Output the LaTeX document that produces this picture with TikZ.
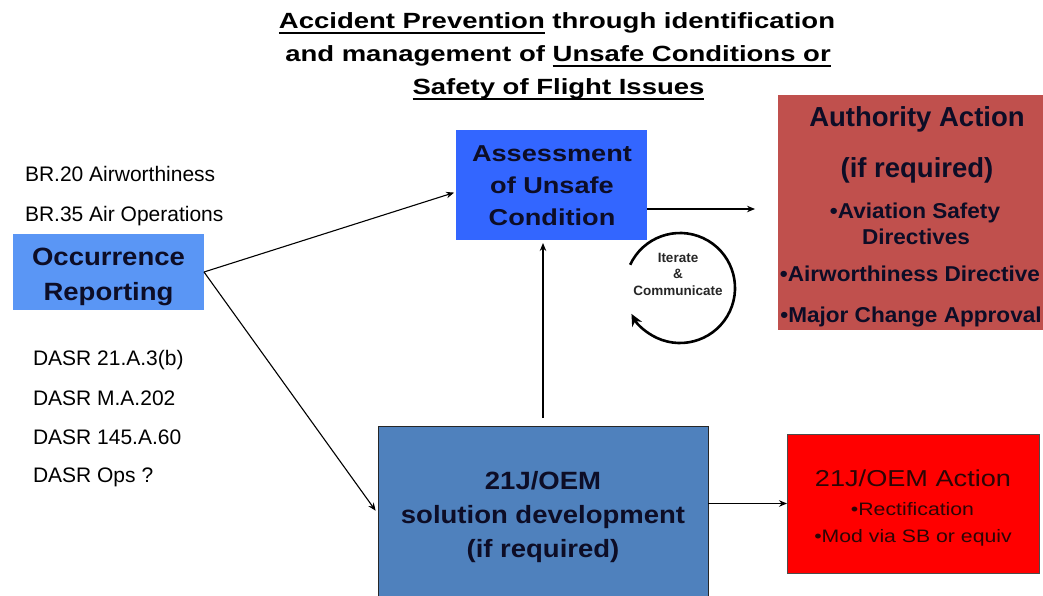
\documentclass[tikz,border=0pt]{standalone}
\usepackage{fontspec}
\setmainfont{Liberation Sans}
\newfontfamily\fTitle[FakeStretch=1.25]{Liberation Sans}
\newfontfamily\fWide[FakeStretch=1.1]{Liberation Sans}
\newfontfamily\fWider[FakeStretch=1.18]{Liberation Sans}
\newfontfamily\fAuth[FakeStretch=1.05]{Liberation Sans}
\usetikzlibrary{arrows.meta}
\newcommand{\ulx}[1]{\setbox0\hbox{#1}\rlap{\rule[-5.2pt]{\wd0}{1.8pt}}\box0\relax}
\definecolor{occblue}{RGB}{90,150,245}
\definecolor{assblue}{RGB}{51,102,255}
\definecolor{authred}{RGB}{192,80,77}
\definecolor{solblue}{RGB}{79,129,189}
\definecolor{oemred}{RGB}{255,0,0}
\definecolor{boxtext}{RGB}{13,13,38}
\definecolor{redtext}{RGB}{45,5,5}
\begin{document}
\begin{tikzpicture}[x=1pt,y=-1pt,
  box/.style={rectangle, inner sep=0pt, outer sep=0pt},
  lbl/.style={inner sep=0pt, outer sep=0pt, anchor=base},
  lft/.style={inner sep=0pt, outer sep=0pt, anchor=base west},
  ttl/.style={lbl, font=\fTitle\bfseries\fontsize{22}{26}\selectfont},
  side/.style={lft, font=\fontsize{21}{25}\selectfont},
  occtxt/.style={lbl, text=boxtext, font=\fWide\bfseries\fontsize{25}{30}\selectfont},
  asstxt/.style={lbl, text=boxtext, font=\fWider\bfseries\fontsize{23}{28}\selectfont},
  authhead/.style={lbl, text=boxtext, font=\bfseries\fontsize{27.5}{32}\selectfont},
  authitem/.style={lbl, text=boxtext, font=\fAuth\bfseries\fontsize{21.5}{25}\selectfont},
  soltxt/.style={lbl, text=boxtext, font=\fWide\bfseries\fontsize{25}{30}\selectfont},
  oemhead/.style={lbl, text=redtext, font=\fWider\fontsize{23}{28}\selectfont},
  oemitem/.style={lbl, text=redtext, font=\fWider\fontsize{18}{22}\selectfont},
  itertxt/.style={lbl, text=black!85, font=\bfseries\fontsize{13.5}{16}\selectfont},
  arr/.style={-{Stealth[length=8pt,width=6.5pt]}, line width=1.1pt},
]
\useasboundingbox (0,0) rectangle (1043,596);

% title
\node[ttl] (t1) at (557,29) {\ulx{Accident Prevention} through identification};
\node[ttl] (t2) at (558,62) {and management of \ulx{Unsafe Conditions or}};
\node[ttl] (t3) at (558.5,95) {\ulx{Safety of Flight Issues}};

% boxes
\node[box, fill=occblue, minimum width=191pt, minimum height=76pt] (occ) at (108.5,272) {};
\node[box, fill=assblue, minimum width=191pt, minimum height=110pt] (ass) at (551.5,185) {};
\node[box, fill=authred, minimum width=265pt, minimum height=235pt] (auth) at (910.5,212.5) {};
\node[box, fill=solblue, draw=black!85, line width=0.9pt, minimum width=330pt, minimum height=176pt] (sol) at (543,514) {};
\node[box, fill=oemred, draw=black!70, line width=0.8pt, minimum width=252pt, minimum height=139pt] (oem) at (913,503.5) {};

% side texts
\node[side] (br20) at (25,182) {BR.20 Airworthiness};
\node[side] (br35) at (25,221) {BR.35 Air Operations};
\node[side] (d1) at (33,365) {DASR 21.A.3(b)};
\node[side] (d2) at (33,405) {DASR M.A.202};
\node[side] (d3) at (33,444) {DASR 145.A.60};
\node[side] (d4) at (33,482) {DASR Ops ?};

% occurrence text
\node[occtxt] (occ1) at (108.5,265) {Occurrence};
\node[occtxt] (occ2) at (108.5,300) {Reporting};

% assessment text
\node[asstxt] (as1) at (552,162) {Assessment};
\node[asstxt] (as2) at (552,193.5) {of Unsafe};
\node[asstxt] (as3) at (552,225) {Condition};

% authority text
\node[authhead] (au1) at (917,127) {Authority Action};
\node[authhead] (au2) at (917,178) {(if required)};
\node[authitem] (au3) at (915,218) {•Aviation Safety};
\node[authitem] (au4) at (916,244) {Directives};
\node[authitem] (au5) at (910,281) {•Airworthiness Directive};
\node[authitem] (au6) at (911,322) {•Major Change Approval};

% solution text
\node[soltxt] (so1) at (543,489) {21J/OEM};
\node[soltxt] (so2) at (543,523) {solution development};
\node[soltxt] (so3) at (543,557) {(if required)};

% OEM action text
\node[oemhead] (oe1) at (913,486) {21J/OEM Action};
\node[oemitem] (oe2) at (912.5,515) {•Rectification};
\node[oemitem] (oe3) at (913,542) {•Mod via SB or equiv};

% iterate cycle
\coordinate (cyc) at (680,288);
\draw[line width=2.6pt, -{Stealth[length=12pt,width=11pt]}] (cyc) ++(-155:55) arc[start angle=-155, end angle=152, radius=55];
\node[itertxt] (it1) at (678,262) {Iterate};
\node[itertxt] (it2) at (678,278) {\&};
\node[itertxt] (it3) at (678,295) {Communicate};

% connectors
\draw[arr, shorten >=2pt] (occ.east) -- ([yshift=-7pt]ass.west);
\draw[arr, shorten >=4pt] (occ.east) -- (sol.west);
\draw[arr, shorten >=23pt] ([yshift=-24pt]ass.east) -- ([yshift=-24pt]ass.east -| auth.west);
\draw[arr, shorten <=8pt, shorten >=3pt] (sol.north) -- (sol.north |- ass.south);
\draw[arr] (oem.west -| sol.east) -- (oem.west);
\end{tikzpicture}
\end{document}
